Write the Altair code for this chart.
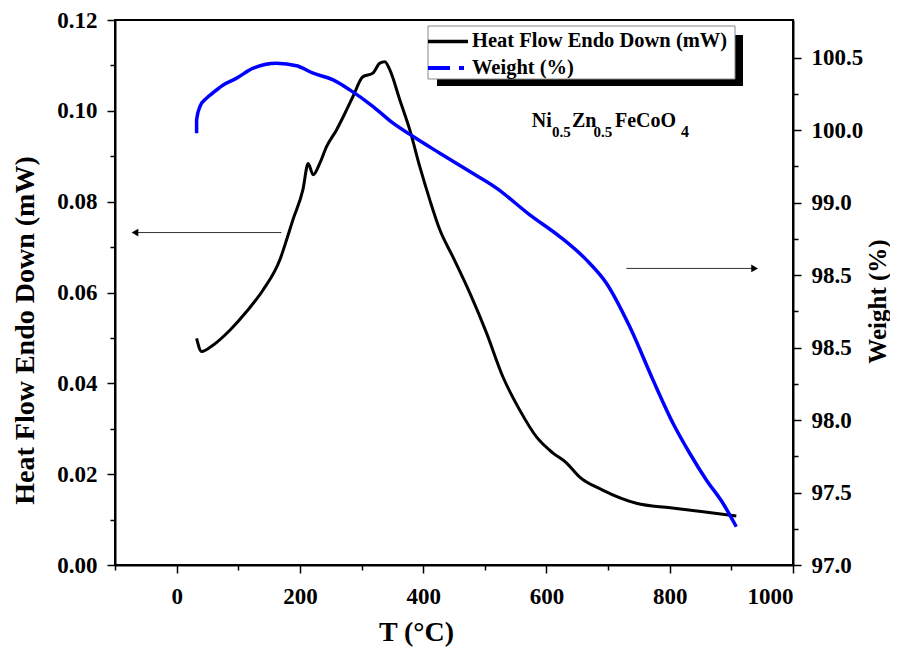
import json
import altair as alt
import pandas as pd

# ---------------- data ----------------
hf_T = [32.4, 40.5, 58.9, 86.4, 113.5, 139.9, 167.5, 178.4, 188.6, 204.8, 213.4, 221.5,
        232.4, 243.2, 259.4, 275.7, 285.9, 302.1, 318.3, 329.7, 337.8, 345.9, 362.1,
        378.3, 394.5, 410.7, 427.0, 448.0, 475.6, 502.7, 529.1, 556.7, 583.8, 610.2,
        632.4, 653.5, 691.1, 745.9, 800.8, 854.3, 908.0]
hf_val = [0.0499, 0.0470, 0.0484, 0.0517, 0.0558, 0.0605, 0.0672, 0.0716, 0.0760, 0.0826,
          0.0884, 0.0859, 0.0885, 0.0921, 0.0958, 0.1002, 0.1031, 0.1075, 0.1083, 0.1105,
          0.1108, 0.1090, 0.1024, 0.0958, 0.0877, 0.0804, 0.0738, 0.0679, 0.0599, 0.0511,
          0.0415, 0.0341, 0.0282, 0.0247, 0.0225, 0.0194, 0.0165, 0.0136, 0.0126, 0.0117,
          0.0108]

w_T = [32.4, 32.4, 37.8, 48.6, 59.3, 75.6, 97.3, 124.2, 162.2, 194.6, 221.5, 253.9, 281.0,
       318.8, 351.2, 383.7, 427.0, 475.6, 518.9, 572.9, 621.5, 664.8, 697.3, 735.0, 772.8,
       805.3, 832.4, 859.4, 886.3, 908.0]
w_val = [99.979, 100.071, 100.163, 100.221, 100.259, 100.312, 100.359, 100.428, 100.462,
         100.444, 100.393, 100.347, 100.278, 100.163, 100.048, 99.956, 99.841, 99.714,
         99.600, 99.416, 99.266, 99.105, 98.944, 98.645, 98.277, 97.978, 97.771, 97.587,
         97.426, 97.264]

x_ticks = list(range(-100, 1001, 100))
hf_ticks = [round(i * 0.01, 2) for i in range(13)]
w_ticks = [97.0 + 0.25 * i for i in range(15)]
w_major = [97.0, 97.5, 98.0, 98.5, 99.0, 99.5, 100.0, 100.5]
w_labels = ["97.0", "97.5", "98.0", "98.5", "98.5", "99.0", "100.0", "100.5"]

arrow_x1 = [170.0, 729.7]
arrow_x2 = [-67.6, 937.7]
arrow_y = [0.0732, 0.0653]

legend_names = ["Heat Flow Endo Down (mW)", "Weight (%)"]
formula_parts = ["Ni", "0.5", "Zn", "0.5", "FeCoO", "4"]

FONT = "Liberation Serif"

hf_df = pd.DataFrame({"T": hf_T, "HF": hf_val, "i": range(len(hf_T))})
w_df = pd.DataFrame({"T": w_T, "W": w_val, "i": range(len(w_T))})

x_axis = alt.Axis(
    values=x_ticks, format="d",
    labelExpr="datum.value % 200 == 0 ? datum.label : ''",
    tickSize={"condition": {"test": "datum.value % 200 == 0", "value": 8}, "value": 5},
    title="T (°C)", titleX=301, titleY=67, titleBaseline="middle", titleAlign="center",
    labelPadding=12, labelFontSize=23, titleFontSize=28,
)
x_enc = alt.X("T:Q", scale=alt.Scale(domain=[-100, 1000], nice=False, zero=False), axis=x_axis)

hf_axis = alt.Axis(
    values=hf_ticks,
    labelExpr="abs(datum.value*50 - round(datum.value*50)) < 0.001 ? format(datum.value, '.2f') : ''",
    tickSize={"condition": {"test": "abs(datum.value*50 - round(datum.value*50)) < 0.001", "value": 8}, "value": 5},
    title="Heat Flow Endo Down (mW)", titleX=-90, titleY=310, titleAngle=270,
    titleAlign="center", titleBaseline="middle", labelPadding=10,
    labelFontSize=23, titleFontSize=28,
)
hf_scale = alt.Scale(domain=[0, 0.12], nice=False, zero=False)

w_expr_idx = "indexof(%s, datum.value)" % json.dumps(w_major)
w_axis = alt.Axis(
    orient="right", values=w_ticks,
    labelExpr="%s >= 0 ? %s[%s] : ''" % (w_expr_idx, json.dumps(w_labels), w_expr_idx),
    tickSize={"condition": {"test": "abs(datum.value*2 - round(datum.value*2)) < 0.001", "value": 8}, "value": 5},
    title="Weight (%)", titleX=84, titleY=281, titleAngle=270,
    titleAlign="center", titleBaseline="middle", labelPadding=10,
    labelFontSize=23, titleFontSize=25,
)

hf_line = alt.Chart(hf_df).mark_line(color="black", strokeWidth=3, interpolate="monotone").encode(
    x=x_enc, y=alt.Y("HF:Q", scale=hf_scale, axis=hf_axis), order="i:Q")

arrow_df = pd.DataFrame({"T": arrow_x1, "T2": arrow_x2, "HF": arrow_y})
arrow_rules = alt.Chart(arrow_df).mark_rule(color="#333333", strokeWidth=1).encode(
    x=x_enc, x2="T2:Q", y=alt.Y("HF:Q", scale=hf_scale, axis=hf_axis))
head_df = pd.DataFrame({"T": arrow_x2, "HF": arrow_y, "shape": ["triangle-left", "triangle-right"]})
heads = alt.Chart(head_df).mark_point(filled=True, color="black", size=60, opacity=1).encode(
    x=x_enc, y=alt.Y("HF:Q", scale=hf_scale, axis=hf_axis),
    shape=alt.Shape("shape:N", scale=None, legend=None))

left = alt.layer(hf_line, arrow_rules, heads)

w_line = alt.Chart(w_df).mark_line(color="#0000FF", strokeWidth=3.5, interpolate="monotone").encode(
    x=x_enc, y=alt.Y("W:Q", scale=alt.Scale(domain=[97.0, 100.76], nice=False, zero=False), axis=w_axis),
    order="i:Q")

# ---------------- legend box & annotation (pixel positions) ----------------
one = pd.DataFrame({"a": [0]})
shadow = alt.Chart(one).mark_rect(color="black").encode(
    x=alt.value(322), x2=alt.value(628), y=alt.value(15), y2=alt.value(66))
box = alt.Chart(one).mark_rect(fill="white", stroke="#888888", strokeWidth=1).encode(
    x=alt.value(313), x2=alt.value(620), y=alt.value(6), y2=alt.value(59))
leg1 = alt.Chart(one).mark_rule(color="black", strokeWidth=3.5).encode(
    x=alt.value(313), x2=alt.value(353), y=alt.value(21.5))
leg2a = alt.Chart(one).mark_rule(color="#0000FF", strokeWidth=4).encode(
    x=alt.value(313), x2=alt.value(335), y=alt.value(48))
leg2b = alt.Chart(one).mark_rule(color="#0000FF", strokeWidth=4).encode(
    x=alt.value(344), x2=alt.value(349), y=alt.value(48))
txt1 = alt.Chart(one).mark_text(font=FONT, fontWeight="bold", fontSize=20.5, align="left",
                                baseline="middle", text=legend_names[0]).encode(
    x=alt.value(357), y=alt.value(21))
txt2 = alt.Chart(one).mark_text(font=FONT, fontWeight="bold", fontSize=20.5, align="left",
                                baseline="middle", text=legend_names[1]).encode(
    x=alt.value(357), y=alt.value(47.5))

form_x = [416.7, 437.0, 457.0, 478.5, 500.0, 566.0]
form_y = [106.7, 117.0, 106.7, 117.0, 106.7, 117.0]
form_size = [20, 15, 20, 15, 20, 16]
form_layers = []
for t, fx, fy, fs in zip(formula_parts, form_x, form_y, form_size):
    form_layers.append(alt.Chart(one).mark_text(font=FONT, fontWeight="bold", fontSize=fs,
                                                align="left", baseline="alphabetic", text=t).encode(
        x=alt.value(fx), y=alt.value(fy)))

deco = alt.layer(shadow, box, leg1, leg2a, leg2b, txt1, txt2, *form_layers)

chart = alt.layer(left, w_line, deco).resolve_scale(y="independent").properties(
    width=678, height=545,
    background="white",
    autosize=alt.AutoSizeParams(type="none"),
    padding={"left": 107, "top": 12, "right": 97, "bottom": 84},
).configure_view(stroke="black", strokeWidth=2).configure_axis(
    grid=False, domainColor="black", domainWidth=2, tickColor="black", tickWidth=1.5,
    labelFont=FONT, titleFont=FONT, labelFontWeight="bold", titleFontWeight="bold",
    labelColor="black", titleColor="black",
)

chart.save("out.html", embed_options={"renderer": "svg", "actions": False})
